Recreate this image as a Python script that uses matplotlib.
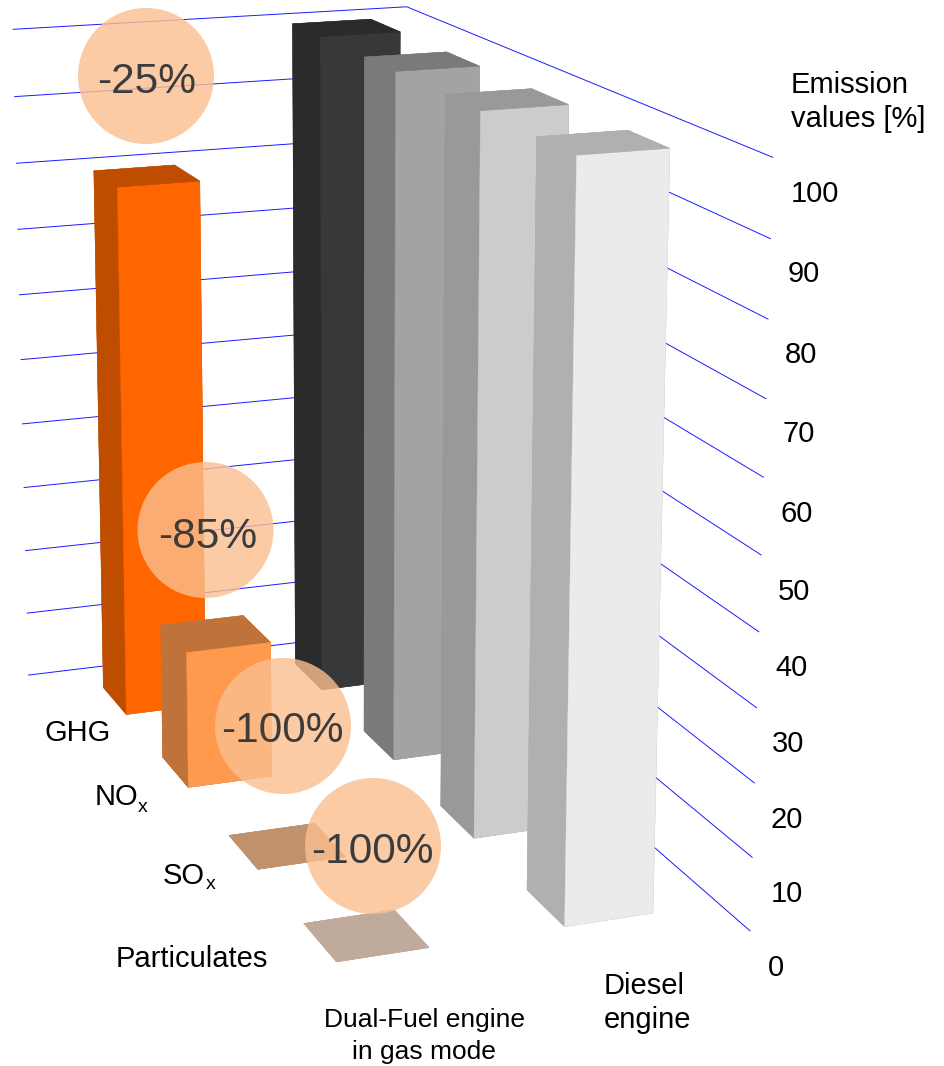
import numpy as np
import matplotlib
matplotlib.use('Agg')
import matplotlib.pyplot as plt
from matplotlib.patches import Circle

plt.rcParams['font.family'] = ['Liberation Sans', 'DejaVu Sans']

W, H = 944, 1066

categories = ['GHG', 'NOx', 'SOx', 'Particulates']
dual_fuel = [80, 20, 0, 0]
diesel = [100, 100, 100, 100]
reductions = ['-25%', '-85%', '-100%', '-100%']
value_ticks = [100, 90, 80, 70, 60, 50, 40, 30, 20, 10, 0]

# floor layout, one unit along each wall
row_y = [0.075, 0.325, 0.575, 0.825]
row_depth = 0.1
dual_x = 0.65
diesel_x = 0.15
bar_width = 0.2

# top/side colour and front colour per bar
dual_dark = ['#bf4d00', '#bf733a', '#bf926d', '#bfaa9b']
dual_front = ['#ff6600', '#ff994d', '#bf926d', '#bfaa9b']
diesel_dark = ['#2b2b2b', '#7a7a7a', '#999999', '#b0b0b0']
diesel_front = ['#383838', '#a3a3a3', '#cccccc', '#ebebeb']

# camera, world (x, y, value) to pixels
camera = np.array([
    [-377.0309648, 192.9391337, -0.1539164, 404.5296632],
    [20.4486621, 112.0082085, -6.230151, 629.507067],
    [-0.0371863, -0.2034002, -0.0004333, 1.0],
])
proj = np.vstack([camera[:2], [0, 0, 0, -1], camera[2]])


def draw_bar(ax, x, y, value, dark, front, order):
    # bar3d faces: bottom, top, back, front, right, left
    faces = [dark, dark, dark, front, dark, dark]
    ax.bar3d(x, y, 0, bar_width, row_depth, value, color=faces, shade=False,
             edgecolor=faces, linewidth=0.3, zorder=order)


fig = plt.figure(figsize=(W / 100, H / 100), dpi=100)

# Axes3D forces a square box, so let it stick out at both sides
ax = fig.add_axes([-61 / W, 0, H / W, 1], projection='3d', computed_zorder=False)
# ortho only switches off the line clipping to -1..1, the camera does the rest
ax.set_proj_type('ortho')
ax.get_proj = lambda: proj
ax.viewLim.intervalx = (-61, W + 61)
ax.viewLim.intervaly = (H, 0)
ax.set_axis_off()

for v in value_ticks:
    ax.plot([1, 0, 0], [0, 0, 1], [v, v, v], color='#1a1aff', lw=0.7, zorder=1)

for i in range(len(categories)):
    draw_bar(ax, dual_x, row_y[i], dual_fuel[i], dual_dark[i], dual_front[i], 10 + 2 * i)
    draw_bar(ax, diesel_x, row_y[i], diesel[i], diesel_dark[i], diesel_front[i], 11 + 2 * i)

# flat overlay in pixels for the circles and the labels
over = fig.add_axes([0, 0, 1, 1])
over.set_xlim(0, W)
over.set_ylim(H, 0)
over.patch.set_alpha(0)
over.axis('off')

circle_x = [146, 205.5, 283, 373]
circle_y = [76, 530, 726, 846]
label_x = [146.5, 207.5, 282.5, 372.5]
reduction_base = [92.7, 548, 741.7, 863]
for cx, cy, lx, base, label in zip(circle_x, circle_y, label_x, reduction_base, reductions):
    over.add_patch(Circle((cx, cy), 68, facecolor='#fbbf90', edgecolor='none', alpha=0.8))
    over.text(lx, base, label, fontsize=30.5, color='#3c3c3c', ha='center', va='baseline')

tick_x = [791, 788, 785, 782, 780, 778, 775, 772, 770, 771, 768]
tick_base = [202.5, 282.5, 363, 442.5, 522.5, 600.5, 676.5, 752.5, 828.5, 902.5, 976.5]
for x, y, v in zip(tick_x, tick_base, value_ticks):
    over.text(x, y, str(v), fontsize=21, color='black', va='baseline')

over.text(791, 93, 'Emission', fontsize=21, va='baseline')
over.text(791, 127, 'values [%]', fontsize=21, va='baseline')

over.text(45, 741, 'GHG', fontsize=21, va='baseline')
over.text(95, 805, 'NO', fontsize=21, va='baseline')
over.text(138, 812, 'x', fontsize=14, va='baseline')
over.text(163, 884, 'SO', fontsize=21, va='baseline')
over.text(206, 889, 'x', fontsize=14, va='baseline')
over.text(116, 967, 'Particulates', fontsize=21, va='baseline')

over.text(424.5, 1026.7, 'Dual-Fuel engine', fontsize=19, ha='center', va='baseline')
over.text(424, 1059.5, 'in gas mode', fontsize=19, ha='center', va='baseline')
over.text(604, 993.5, 'Diesel', fontsize=21, va='baseline')
over.text(604, 1027.5, 'engine', fontsize=21, va='baseline')

fig.savefig('out.png', dpi=100)
